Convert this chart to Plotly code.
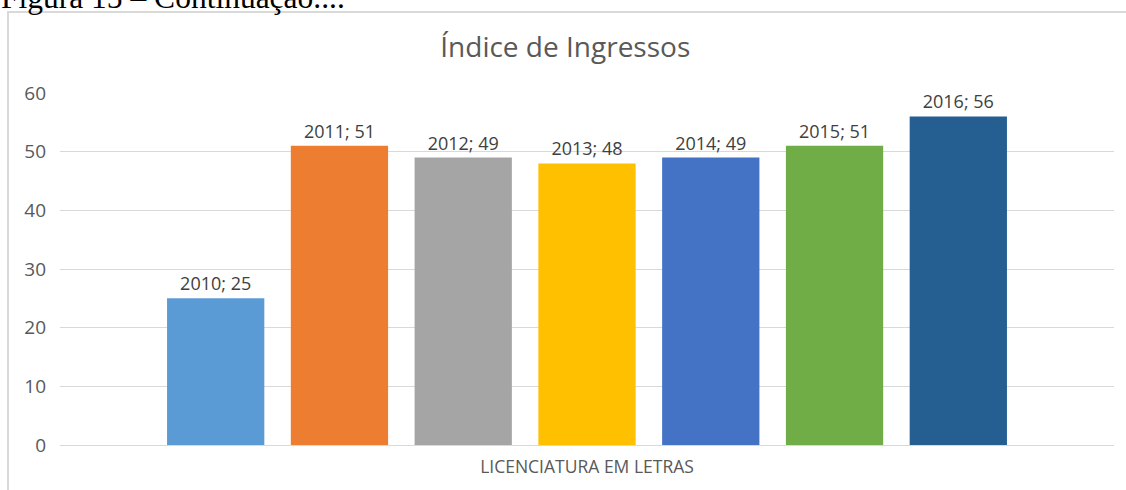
import plotly.graph_objects as go

category = ["LICENCIATURA EM LETRAS"]
years = ["2010", "2011", "2012", "2013", "2014", "2015", "2016"]
values = [25, 51, 49, 48, 49, 51, 56]
colors = ["#5B9BD5", "#ED7D31", "#A5A5A5", "#FFC000", "#4472C4", "#70AD47", "#255E91"]
y_ticks = [0, 10, 20, 30, 40, 50, 60]

W, H = 1126, 490
ml, mr, mt, mb = 60, 12, 93, 45
pw, ph = W - ml - mr, H - mt - mb

fig = go.Figure()
for yr, v, c in zip(years, values, colors):
    fig.add_trace(go.Bar(
        x=category, y=[v], name=yr, marker=dict(color=c, line=dict(width=0)),
        text=[f"{yr}; {v}"], textposition="outside", cliponaxis=False,
        textfont=dict(family="Open Sans", size=18, color="#404040"),
    ))

def px_x(p):
    return (p - ml) / pw

def px_y(p):
    return (H - mb - p) / ph

fig.add_shape(type="rect", xref="paper", yref="paper",
              x0=px_x(8), x1=px_x(1140), y0=px_y(500), y1=px_y(12),
              line=dict(color="#d9d9d9", width=2), layer="below")

fig.add_annotation(text="Figura 15 – Continuação....", xref="paper", yref="paper",
                   x=px_x(-1), y=px_y(17), xanchor="left", yanchor="bottom",
                   showarrow=False,
                   font=dict(family="Liberation Serif", size=31.5, color="#000000"))

fig.update_layout(
    width=W, height=H,
    margin=dict(l=ml, r=mr, t=mt, b=mb),
    paper_bgcolor="white", plot_bgcolor="white",
    barmode="group", bargap=0.178, bargroupgap=0.214,
    showlegend=False,
    title=dict(text="Índice de Ingressos", x=0.502, xref="container", xanchor="center",
               y=1 - 47 / H, yref="container", yanchor="middle",
               font=dict(family="Open Sans", size=28, color="#595959")),
    font=dict(family="Open Sans", color="#595959"),
    yaxis=dict(range=[0, 60], tickvals=y_ticks, showgrid=True, gridcolor="#d9d9d9",
               gridwidth=1, zeroline=False, showline=False,
               tickfont=dict(size=19, color="#595959"), ticklabelstandoff=13),
    xaxis=dict(showline=True, linecolor="#d9d9d9", linewidth=1,
               tickfont=dict(size=17.5, color="#595959"), ticks="",
               ticklabelstandoff=6),
)

fig.write_html("out.html", config={"displayModeBar": False})

with open("out.html", "r", encoding="utf-8") as f:
    html = f.read()
html = html.replace("<body>", '<body style="margin:0;padding:0;overflow:hidden">', 1)
with open("out.html", "w", encoding="utf-8") as f:
    f.write(html)
